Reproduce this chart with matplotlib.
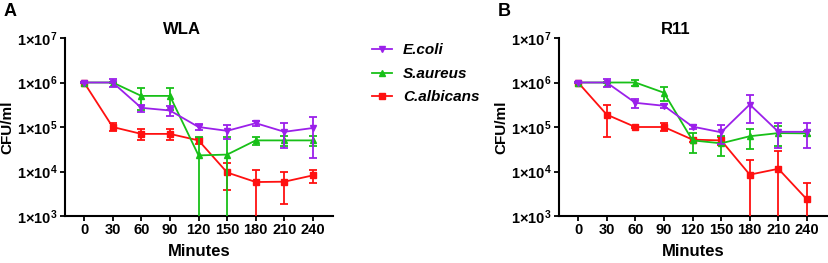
import math
import matplotlib
matplotlib.use("Agg")
import matplotlib.pyplot as plt
from matplotlib.lines import Line2D
from matplotlib.ticker import FixedLocator, FuncFormatter, NullLocator

plt.rcParams['font.family'] = ['Liberation Sans', 'DejaVu Sans']
plt.rcParams['font.weight'] = 'bold'
plt.rcParams['mathtext.fontset'] = 'custom'
plt.rcParams['mathtext.rm'] = 'Liberation Sans:bold'
plt.rcParams['mathtext.bf'] = 'Liberation Sans:bold'
plt.rcParams['mathtext.it'] = 'Liberation Sans:bold:italic'

minutes = [0, 30, 60, 90, 120, 150, 180, 210, 240]

# panel A - WLA
wla_ecoli = [1e6, 1e6, 2.7e5, 2.35e5, 1e5, 8.2e4, 1.22e5, 7.8e4, 9.5e4]
wla_ecoli_err = [3e4, 2.2e5, 5e4, 5.5e4, 1.5e4, 2.8e4, 1.8e4, 4.5e4, 7.5e4]
wla_saureus = [1e6, 1e6, 5e5, 5e5, 2.3e4, 2.4e4, 5e4, 5e4, 5e4]
wla_saureus_err = [2e4, 5e4, 2.6e5, 2.6e5, 3.6e4, 3.5e4, 1e4, 1.2e4, 1.2e4]
wla_calb = [1e6, 1e5, 7e4, 7e4, 5e4, 9.5e3, 5.8e3, 5.9e3, 8.2e3]
wla_calb_err = [2e4, 2e4, 1.8e4, 1.8e4, 8e3, 5.7e3, 4.9e3, 4e3, 2.6e3]

# panel B - R11
r11_ecoli = [1e6, 1e6, 3.5e5, 3e5, 1.02e5, 7.6e4, 3.2e5, 7.8e4, 7.8e4]
r11_ecoli_err = [3e4, 2e5, 8e4, 3e4, 1e4, 3.5e4, 1.95e5, 4.5e4, 4.5e4]
r11_saureus = [1e6, 1e6, 1e6, 5.9e5, 5e4, 4.3e4, 6.2e4, 7.3e4, 7.2e4]
r11_saureus_err = [2e4, 5e4, 1.6e5, 2e5, 2.4e4, 2.1e4, 3e4, 3.5e4, 1e4]
r11_calb = [1e6, 1.9e5, 1e5, 1e5, 5.2e4, 5e4, 8.5e3, 1.15e4, 2.35e3]
r11_calb_err = [2e4, 1.3e5, 6e3, 2e4, 6e3, 1e4, 9.5e3, 1.75e4, 3.2e3]

labels = ['E.coli', 'S.aureus', 'C.albicans']
colors = ['#9b20ea', '#18c018', '#ff1010']
markers = ['v', '^', 's']
decades = [1e3, 1e4, 1e5, 1e6, 1e7]

fig = plt.figure(figsize=(8.29, 2.63), dpi=100)
axA = fig.add_axes([0.0784, 0.1787, 0.3233, 0.6768])
axB = fig.add_axes([0.6743, 0.1787, 0.3233, 0.6768])


def draw(ax, series, title):
    # red first, purple on top
    for i in [2, 1, 0]:
        vals, errs = series[i]
        ax.errorbar(minutes, vals, yerr=errs, color=colors[i], marker=markers[i],
                    markersize=4.8, lw=1.3, elinewidth=1.3, capsize=2.6,
                    capthick=1.3, zorder=3 + (2 - i))
    ax.set_yscale('log')
    ax.set_ylim(1e3, 1e7)
    ax.set_xlim(-20, 261)
    ax.yaxis.set_major_locator(FixedLocator(decades))
    ax.yaxis.set_minor_locator(NullLocator())
    ax.yaxis.set_major_formatter(FuncFormatter(
        lambda v, p: r'$1{\times}10^{%d}$' % round(math.log10(v))))
    ax.set_xticks(minutes)
    ax.tick_params(axis='both', labelsize=10.5, width=1.3, length=3.5, pad=2)
    ax.tick_params(axis='x', pad=1.5)
    for s in ['top', 'right']:
        ax.spines[s].set_visible(False)
    for s in ['left', 'bottom']:
        ax.spines[s].set_linewidth(1.5)
    for lab in ax.get_xticklabels():
        lab.set_fontweight('bold')
    ax.set_xlabel('Minutes', fontsize=12, fontweight='bold', labelpad=5)
    ax.set_ylabel('CFU/ml', fontsize=11, fontweight='bold')
    ax.yaxis.set_label_coords(-0.19, 0.5)
    ax.text(0.435, 1.045, title, transform=ax.transAxes, ha='center', va='center',
            fontsize=12, fontweight='bold')


draw(axA, [(wla_ecoli, wla_ecoli_err), (wla_saureus, wla_saureus_err),
           (wla_calb, wla_calb_err)], 'WLA')
draw(axB, [(r11_ecoli, r11_ecoli_err), (r11_saureus, r11_saureus_err),
           (r11_calb, r11_calb_err)], 'R11')

fig.text(0.004, 0.955, 'A', fontsize=13, fontweight='bold', va='center')
fig.text(0.600, 0.955, 'B', fontsize=13, fontweight='bold', va='center')

handles = [Line2D([], [], color=c, marker=m, markersize=4.8, lw=1.3)
           for c, m in zip(colors, markers)]
leg = fig.legend(handles, labels, loc='upper left', bbox_to_anchor=(0.449, 0.835),
                 frameon=False, handlelength=1.3, handletextpad=0.7,
                 labelspacing=0.62, borderpad=0, borderaxespad=0,
                 prop={'size': 11, 'weight': 'bold', 'style': 'italic'})

fig.savefig('out.png', dpi=100)
